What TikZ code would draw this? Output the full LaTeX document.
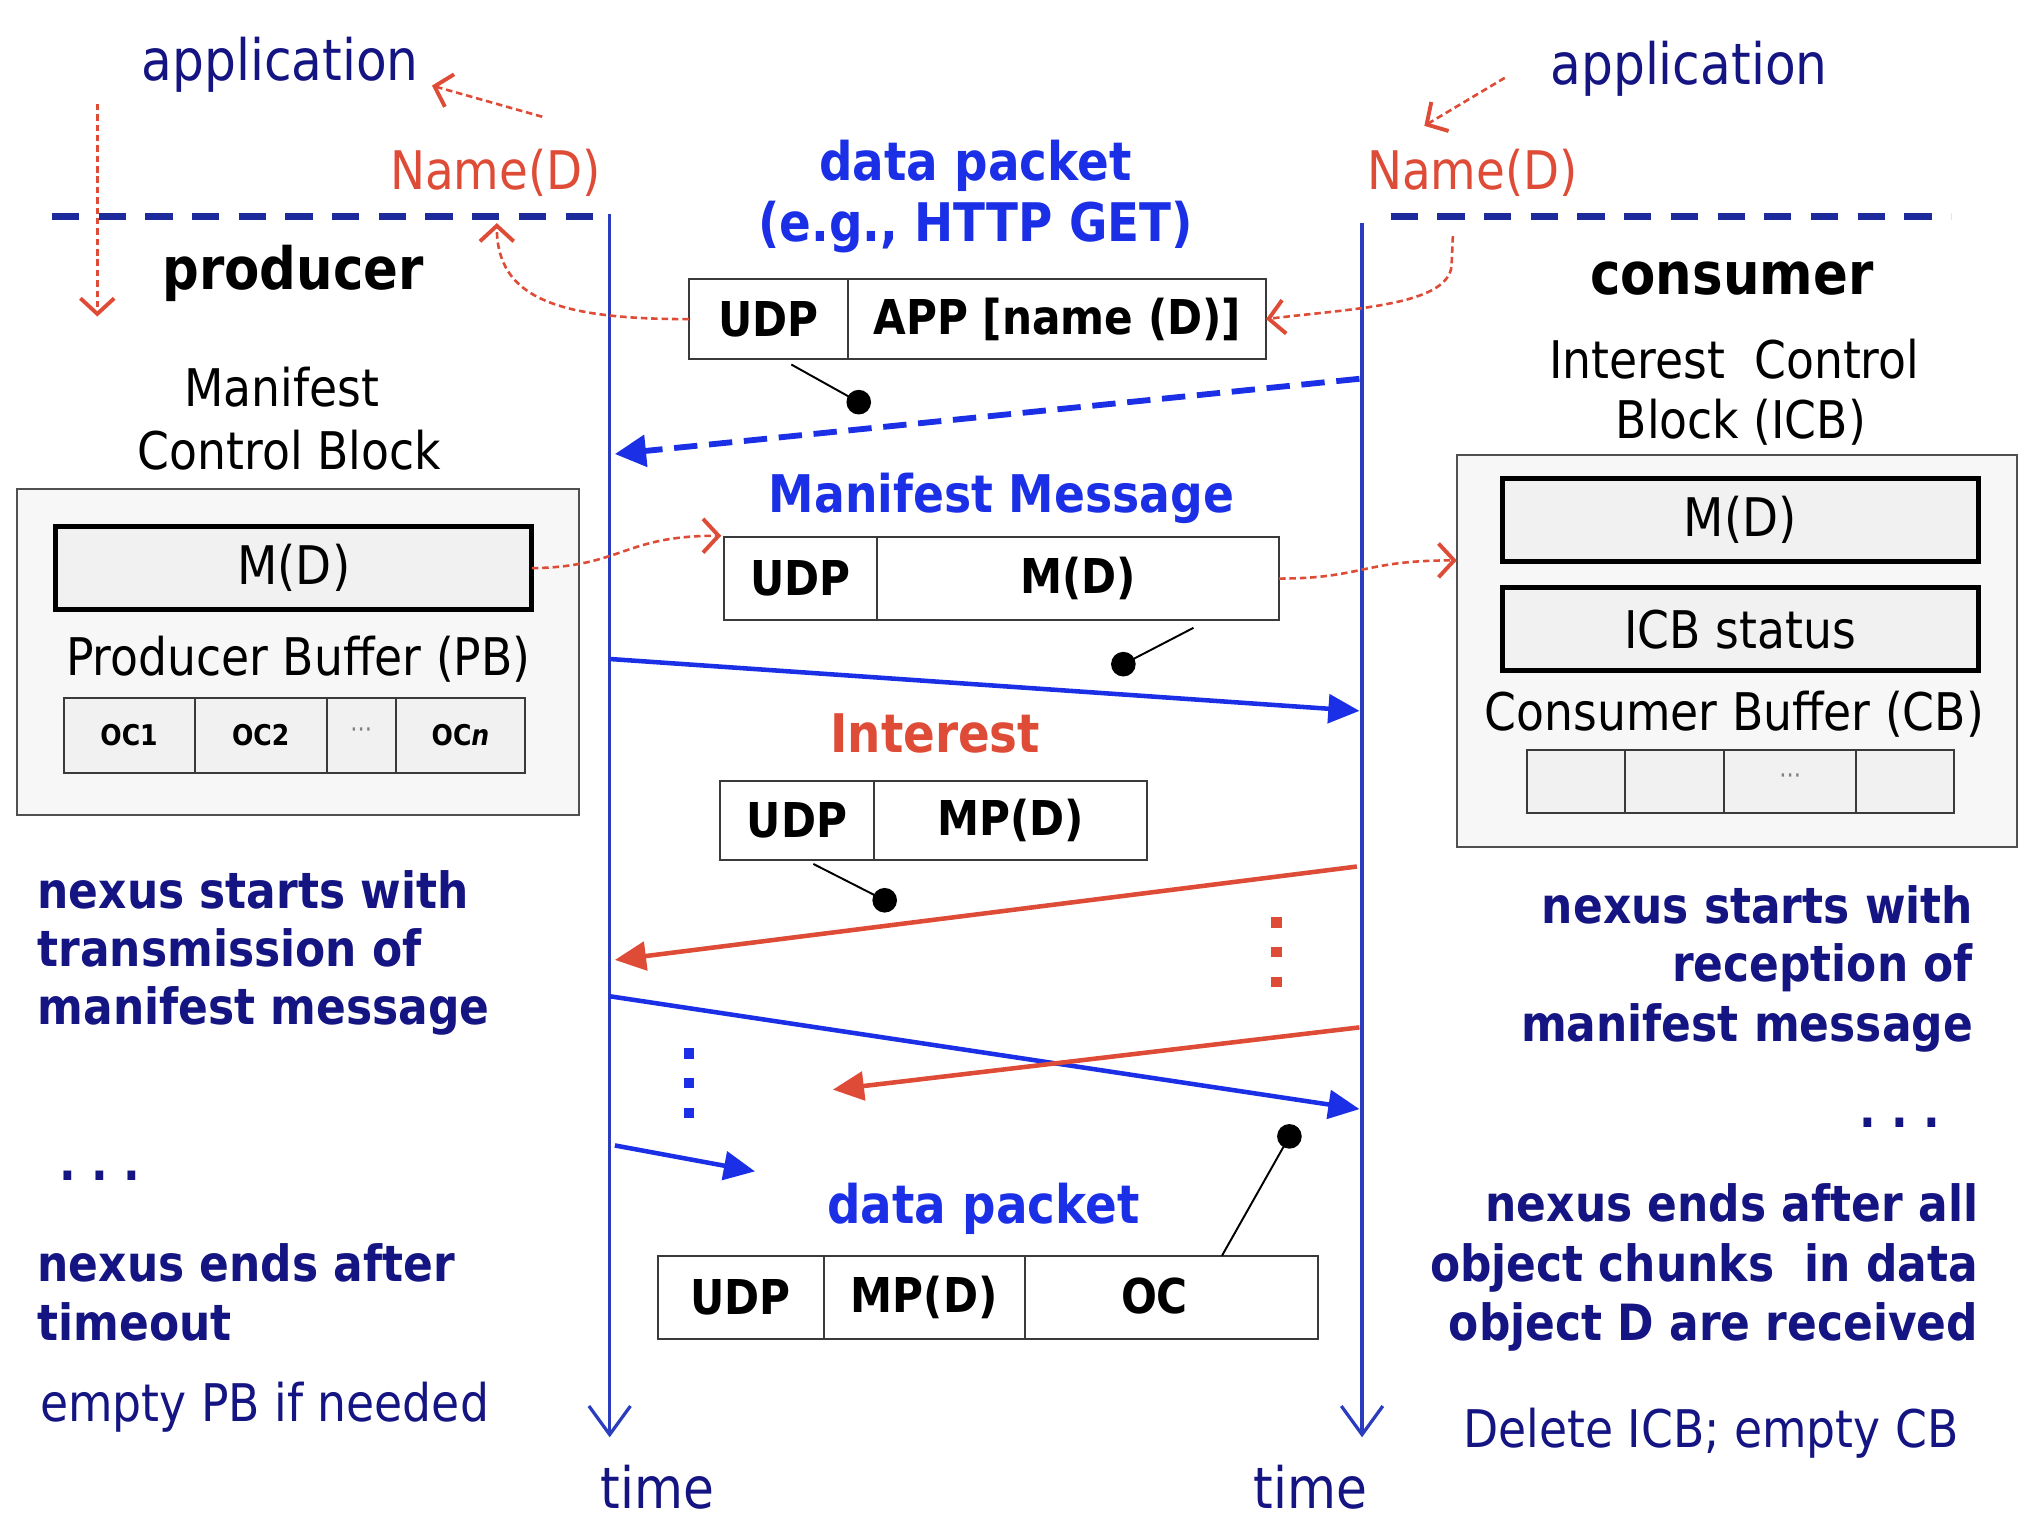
\documentclass[tikz,border=0pt]{standalone}
\usepackage{fontspec}
\setmainfont{DejaVu Sans}[FakeStretch=0.88]
\usetikzlibrary{arrows.meta,calc}
\definecolor{cNavy}{HTML}{141482}
\definecolor{cBlue}{HTML}{1B30E6}
\definecolor{cTime}{HTML}{2A3DBF}
\definecolor{cSep}{HTML}{1C2A9C}
\definecolor{cRed}{HTML}{DE4B36}
\definecolor{cBox}{HTML}{3A3A3A}
\definecolor{cGrayB}{HTML}{505050}
\definecolor{cLight}{HTML}{F7F7F7}
\definecolor{cInner}{HTML}{F1F1F1}
\tikzset{
  every node/.style={inner sep=0pt,outer sep=0pt},
  reg/.style={font=\fontsize{#1}{#1}\selectfont},
  bld/.style={font=\fontsize{#1}{#1}\selectfont\bfseries},
  field/.style={draw=cBox,line width=1.5pt,fill=white,anchor=north west,bld=37},
  outerbox/.style={draw=cGrayB,line width=1.5pt,fill=cLight,anchor=north west},
  innerbox/.style={draw=black,line width=4pt,fill=cInner,anchor=north west,reg=41},
  cell/.style={draw=cBox,line width=1.5pt,fill=cInner,anchor=north west,bld=22},
  timeline/.style={draw=cTime,line width=2.5pt,-{Straight Barb[length=22pt,width=32pt]}},
  sepline/.style={draw=cSep,line width=5pt,dash pattern=on 21pt off 15pt},
  flow/.style={draw=cRed,line width=2pt,dash pattern=on 5pt off 3pt,-{Straight Barb[length=12pt,width=26pt,line width=3pt]}},
  msgB/.style={draw=cBlue,line width=3.5pt,-{Triangle[length=24pt,width=22pt]}},
  msgBd/.style={draw=cBlue,line width=4.5pt,dash pattern=on 18pt off 9pt,-{Triangle[length=24pt,width=24pt]}},
  msgR/.style={draw=cRed,line width=3.5pt,-{Triangle[length=24pt,width=22pt]}},
  pinline/.style={draw=black,line width=1.5pt},
  pindot/.style={circle,fill=black,minimum size=19pt},
  vdots/.style={line width=8pt,dash pattern=on 8pt off 15pt},
}
\begin{document}
\begin{tikzpicture}[x=1pt,y=-1pt]
\useasboundingbox (0,0) rectangle (1568,1179);
\fill[white] (0,0) rectangle (1568,1179);

% separators and timelines
\coordinate (sepL1) at (40,167);
\coordinate (sepL2) at (468,167);
\coordinate (sepR1) at (1072,167);
\coordinate (sepR2) at (1504,167);
\draw[sepline] (sepL1) -- (sepL2);
\draw[sepline] (sepR1) -- (sepR2);
\coordinate (tlLtop) at (470,165);
\coordinate (tlLbot) at (470,1108);
\coordinate (tlRtop) at (1050,172);
\coordinate (tlRbot) at (1050,1108);
\draw[timeline] (tlLtop) -- (tlLbot);
\draw[timeline] (tlRtop) -- (tlRbot);
\node[reg=44,text=cNavy,anchor=base] (timeL) at (507,1163) {time};
\node[reg=44,text=cNavy,anchor=base] (timeR) at (1010,1163) {time};

% top labels
\node[reg=44,text=cNavy,anchor=base] (appL) at (216,62) {application};
\node[reg=44,text=cNavy,anchor=base] (appR) at (1302,65) {application};
\node[reg=41,text=cRed,anchor=base] (nameL) at (382,146) {Name(D)};
\node[reg=41,text=cRed,anchor=base] (nameR) at (1135,146) {Name(D)};
\node[bld=45,anchor=base] (prod) at (226,223) {producer};
\node[bld=45,anchor=base] (cons) at (1335,227) {consumer};

% headings
\node[bld=41,text=cBlue,anchor=base] (h1a) at (752,139) {data packet};
\node[bld=41,text=cBlue,anchor=base] (h1b) at (752,186) {(e.g., HTTP GET)};
\node[bld=40,text=cBlue,anchor=base] (h2) at (772,395) {Manifest Message};
\node[bld=41,text=cRed,anchor=base] (h3) at (721,580) {Interest};
\node[bld=41,text=cBlue,anchor=base] (h4) at (758,943) {data packet};

% packet 1
\node[field,minimum width=123pt,minimum height=62pt] (p1u) at (531,215) {UDP};
\node[field,minimum width=322pt,minimum height=62pt] (p1a) at (654,215) {APP [name (D)]};
% packet 2
\node[field,minimum width=118pt,minimum height=64pt] (p2u) at (558,414) {UDP};
\node[field,minimum width=310pt,minimum height=64pt] (p2m) at (676,414) {M(D)};
% packet 3
\node[field,minimum width=119pt,minimum height=61pt] (p3u) at (555,602) {UDP};
\node[field,minimum width=210pt,minimum height=61pt] (p3m) at (674,602) {MP(D)};
% packet 4
\node[field,minimum width=128pt,minimum height=64pt] (p4u) at (507,968) {UDP};
\node[field,minimum width=155pt,minimum height=64pt] (p4m) at (635,968) {MP(D)};
\node[field,minimum width=226pt,minimum height=64pt] (p4o) at (790,968) {\raisebox{3pt}{OC}\hspace*{26pt}\mbox{}};

% pins
\node[pindot] (d1) at (662,310) {};
\coordinate (d1s) at (610,281);
\draw[pinline] (d1s) -- (d1.center);
\node[pindot] (d2) at (866,512) {};
\coordinate (d2s) at (920,484);
\draw[pinline] (d2s) -- (d2.center);
\node[pindot] (d3) at (682,694) {};
\coordinate (d3s) at (627,666);
\draw[pinline] (d3s) -- (d3.center);
\node[pindot] (d4) at (994,876) {};
\coordinate (d4s) at (942,968);
\draw[pinline] (d4s) -- (d4.center);

% producer side
\node[reg=40,anchor=base] (mcb1) at (217,313) {Manifest};
\node[reg=40,anchor=base] (mcb2) at (223,362) {Control Block};
\node[outerbox,minimum width=433pt,minimum height=251pt] (mcb) at (13,377) {};
\node[innerbox,minimum width=367pt,minimum height=64pt] (pmd) at (43,406) {M(D)};
\node[reg=40,anchor=base] (pbl) at (230,521) {Producer Buffer (PB)};
\node[cell,minimum width=101pt,minimum height=58pt] (oc1) at (49,538) {OC1};
\node[cell,minimum width=102pt,minimum height=58pt] (oc2) at (150,538) {OC2};
\node[cell,minimum width=53pt,minimum height=58pt,font=\fontsize{20}{20}\selectfont,text=gray] (ocd) at (252,538) {\raisebox{4pt}{\textperiodcentered\textperiodcentered\textperiodcentered}};
\node[cell,minimum width=100pt,minimum height=58pt] (ocn) at (305,538) {OC\textit{n}};

% consumer side
\node[reg=40,anchor=base] (icb1) at (1337,292) {Interest\ \ Control};
\node[reg=40,anchor=base] (icb2) at (1342,338) {Block (ICB)};
\node[outerbox,minimum width=432pt,minimum height=302pt] (icb) at (1123,351) {};
\node[innerbox,minimum width=367pt,minimum height=64pt] (cmd) at (1158,369) {M(D)};
\node[innerbox,minimum width=367pt,minimum height=64pt,reg=40] (cst) at (1158,453) {ICB status};
\node[reg=40,anchor=base] (cbl) at (1337,563) {Consumer Buffer (CB)};
\node[cell,minimum width=76pt,minimum height=49pt] (cb1) at (1177,578) {};
\node[cell,minimum width=76pt,minimum height=49pt] (cb2) at (1253,578) {};
\node[cell,minimum width=102pt,minimum height=49pt,font=\fontsize{20}{20}\selectfont,text=gray] (cb3) at (1329,578) {\raisebox{4pt}{\textperiodcentered\textperiodcentered\textperiodcentered}};
\node[cell,minimum width=75pt,minimum height=49pt] (cb4) at (1431,578) {};

% red dashed flows
\coordinate (fa1) at (418,90);
\coordinate (fa2) at (333,66);
\draw[flow] (fa1) -- (fa2);
\coordinate (fb1) at (1160,60);
\coordinate (fb2) at (1098,97);
\draw[flow] (fb1) -- (fb2);
\coordinate (fc1) at (75,80);
\coordinate (fc2) at (75,244);
\draw[flow] (fc1) -- (fc2);
\coordinate (fd2) at (383,172);
\draw[flow] (p1u.west) .. controls (430,246) and (383,230) .. (fd2);
\coordinate (fe1) at (1120,182);
\draw[flow] (fe1) -- (1119,205) .. controls (1116,236) and (1040,238) .. (p1a.east);
\coordinate (ff2) at (556,413);
\draw[flow] (pmd.east) .. controls (480,437) and (480,413) .. (ff2);
\coordinate (fg2) at ($(icb.north west)+(0,81)$);
\draw[flow] (p2m.east) .. controls (1050,446) and (1050,432) .. (fg2);

% messages
\coordinate (m1s) at (1048,292);
\coordinate (m1e) at (474,350);
\draw[msgBd] (m1s) -- (m1e);
\coordinate (m2s) at (470,508);
\coordinate (m2e) at (1048,548);
\draw[msgB] (m2s) -- (m2e);
\coordinate (m3s) at (1046,668);
\coordinate (m3e) at (474,740);
\draw[msgR] (m3s) -- (m3e);
\coordinate (m4s) at (470,768);
\coordinate (m4e) at (1048,855);
\draw[msgB] (m4s) -- (m4e);
\coordinate (m5s) at (1048,792);
\coordinate (m5e) at (642,840);
\draw[msgR] (m5s) -- (m5e);
\coordinate (m6s) at (474,883);
\coordinate (m6e) at (582,903);
\draw[msgB] (m6s) -- (m6e);

% vertical dots
\coordinate (vr1) at (984,707);
\coordinate (vr2) at (984,766);
\draw[vdots,cRed] (vr1) -- (vr2);
\coordinate (vb1) at (531,808);
\coordinate (vb2) at (531,866);
\draw[vdots,cBlue] (vb1) -- (vb2);

% left notes
\node[bld=38.5,text=cNavy,anchor=base west] (l1) at (29,700) {nexus starts with};
\node[bld=38.5,text=cNavy,anchor=base west] (l2) at (29,745) {transmission of};
\node[bld=38.5,text=cNavy,anchor=base west] (l3) at (29,790) {manifest message};
\node[bld=38.5,text=cNavy,anchor=base west] (l4) at (46,910) {.\ .\ .};
\node[bld=38.5,text=cNavy,anchor=base west] (l5) at (29,988) {nexus ends after};
\node[bld=38.5,text=cNavy,anchor=base west] (l6) at (29,1033) {timeout};
\node[reg=40,text=cNavy,anchor=base west] (l7) at (31,1096) {empty PB if needed};

% right notes
\node[bld=38.5,text=cNavy,anchor=base east] (r1) at (1521,712) {nexus starts with};
\node[bld=38.5,text=cNavy,anchor=base east] (r2) at (1521,757) {reception of};
\node[bld=38.5,text=cNavy,anchor=base east] (r3) at (1521,803) {manifest message};
\node[bld=38.5,text=cNavy,anchor=base east] (r4) at (1496,869) {.\ .\ .};
\node[bld=38.5,text=cNavy,anchor=base east] (r5) at (1525,942) {nexus ends after all};
\node[bld=38.5,text=cNavy,anchor=base east] (r6) at (1525,988) {object chunks\ \ in data};
\node[bld=38.5,text=cNavy,anchor=base east] (r7) at (1525,1033) {object D are received};
\node[reg=40,text=cNavy,anchor=base] (r8) at (1319,1116) {Delete ICB; empty CB};
\end{tikzpicture}
\end{document}
